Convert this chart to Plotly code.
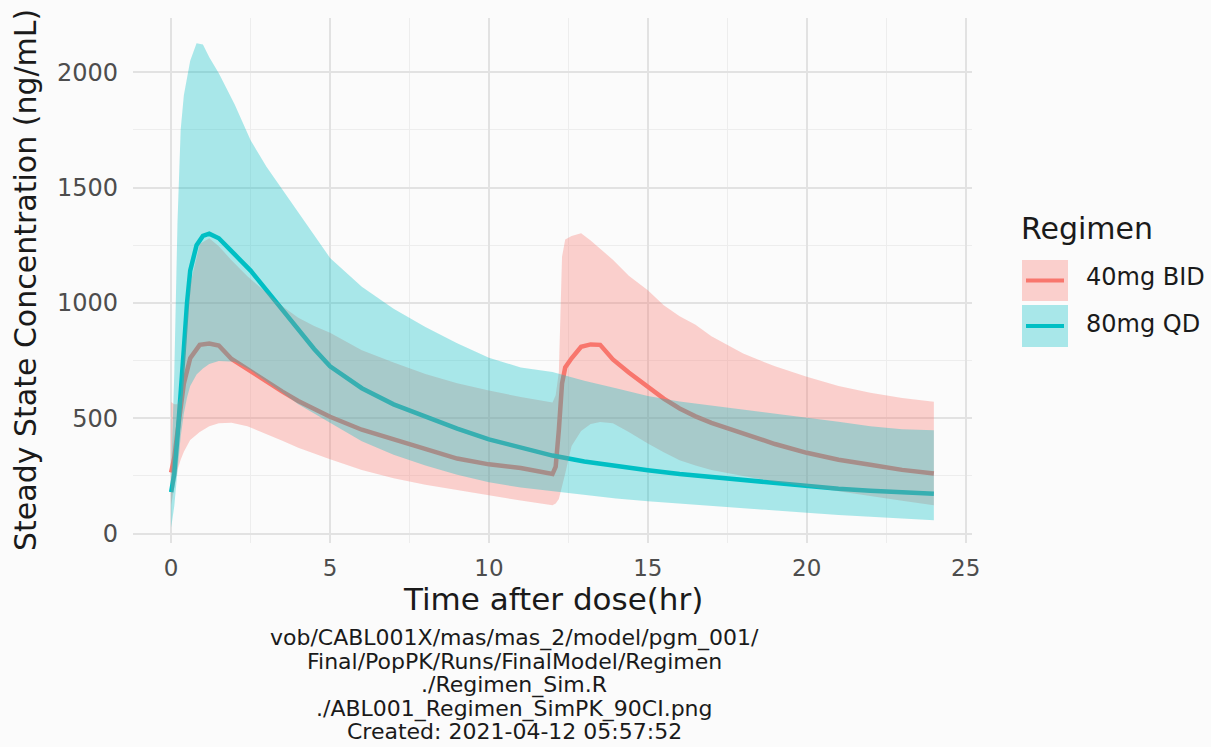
import plotly.graph_objects as go

# ---------------- data ----------------
regimens = ["40mg BID", "80mg QD"]

time_qd = [0, 0.1, 0.2, 0.3, 0.4, 0.5, 0.6, 0.8, 1.0, 1.2, 1.5, 2.0, 2.5, 3.0, 3.5,
           4, 4.5, 5, 6, 7, 8, 9, 10, 11, 12, 13, 14, 15, 16, 17, 18, 19, 20, 21,
           22, 23, 24]
qd_median = [180, 260, 420, 640, 800, 1000, 1140, 1250, 1290, 1300, 1280, 1210, 1140,
             1055, 970, 885, 800, 725, 630, 560, 505, 455, 408, 372, 338, 312, 292,
             274, 258, 245, 232, 218, 204, 194, 186, 179, 173]
qd_lower = [25, 120, 280, 420, 520, 590, 640, 690, 715, 735, 748, 745, 708, 660, 610,
            560, 520, 480, 400, 342, 295, 255, 222, 200, 186, 168, 152, 140, 127, 117,
            108, 100, 90, 80, 72, 65, 58]
qd_upper = [250, 700, 1350, 1750, 1900, 1980, 2050, 2125, 2120, 2065, 1995, 1860, 1705,
            1590, 1490, 1390, 1290, 1195, 1070, 975, 895, 825, 762, 720, 700, 662, 630,
            596, 572, 555, 536, 520, 505, 485, 465, 452, 448]

time_bid = [0, 0.1, 0.2, 0.3, 0.4, 0.6, 0.9, 1.2, 1.5, 1.9, 2.4, 3, 3.5, 4, 4.5, 5, 6,
            7, 8, 9, 10, 11, 12, 12.1, 12.2, 12.3, 12.4, 12.6, 12.9, 13.2, 13.5, 13.9,
            14.4, 15, 15.5, 16, 16.5, 17, 18, 19, 20, 21, 22, 23, 24]
bid_median = [265, 330, 440, 560, 650, 760, 818, 824, 815, 757, 712, 660, 615, 575, 540,
              506, 450, 408, 362, 325, 300, 284, 258, 290, 450, 650, 720, 760, 810, 820,
              818, 755, 698, 634, 585, 542, 508, 480, 432, 388, 350, 320, 298, 276, 260]
bid_lower = [125, 200, 275, 320, 355, 405, 440, 465, 478, 480, 465, 430, 402, 372, 346,
             322, 276, 240, 212, 188, 165, 143, 123, 130, 150, 200, 260, 380, 445, 475,
             484, 478, 440, 390, 352, 318, 295, 275, 250, 225, 202, 182, 162, 142, 123]
bid_upper = [570, 560, 560, 600, 760, 1080, 1255, 1280, 1245, 1185, 1115, 1045, 985,
             935, 900, 870, 795, 742, 692, 652, 620, 592, 568, 600, 700, 1200, 1275,
             1290, 1302, 1270, 1235, 1187, 1118, 1055, 990, 942, 905, 855, 780, 725, 680,
             640, 610, 588, 571]

x_ticks = [0, 5, 10, 15, 20, 25]
y_ticks = [0, 500, 1000, 1500, 2000]

caption_lines = [
    "vob/CABL001X/mas/mas_2/model/pgm_001/",
    "Final/PopPK/Runs/FinalModel/Regimen",
    "./Regimen_Sim.R",
    "./ABL001_Regimen_SimPK_90CI.png",
    "Created: 2021-04-12 05:57:52",
]

# ---------------- styling ----------------
RED = "#F8766D"
CYAN = "#00BFC4"
RED_FILL = "rgba(248,118,109,0.33)"
CYAN_FILL = "rgba(0,191,196,0.33)"
FONT = "DejaVu Sans"
BG = "#fbfbfb"

W, H = 1211, 747
L, R, T, B = 133, 972, 18, 543   # plot area in pixels


def px(x):
    return (x - L) / (R - L)


def py(y):
    return (B - y) / (B - T)


fig = go.Figure()

# lines first (ribbons are drawn over them, as in the reference)
fig.add_trace(go.Scatter(x=time_bid, y=bid_median, mode="lines",
                         line=dict(color=RED, width=4.5), name=regimens[0],
                         showlegend=False))
fig.add_trace(go.Scatter(x=time_qd, y=qd_median, mode="lines",
                         line=dict(color=CYAN, width=4.5), name=regimens[1],
                         showlegend=False))

# 90% CI ribbons
fig.add_trace(go.Scatter(x=time_bid + time_bid[::-1],
                         y=bid_upper + bid_lower[::-1],
                         fill="toself", fillcolor=RED_FILL, mode="lines",
                         line=dict(width=0, color=RED_FILL), hoverinfo="skip",
                         showlegend=False))
fig.add_trace(go.Scatter(x=time_qd + time_qd[::-1],
                         y=qd_upper + qd_lower[::-1],
                         fill="toself", fillcolor=CYAN_FILL, mode="lines",
                         line=dict(width=0, color=CYAN_FILL), hoverinfo="skip",
                         showlegend=False))

grid_major = "#e2e2e2"
grid_minor = "#ededed"

fig.update_layout(
    width=W, height=H,
    margin=dict(l=L, r=W - R, t=T, b=H - B, autoexpand=False),
    paper_bgcolor=BG, plot_bgcolor=BG,
    showlegend=False,
    font=dict(family=FONT, color="#1a1a1a"),
    xaxis=dict(range=[-1.2, 25.2], tickvals=x_ticks,
               ticktext=[str(v) for v in x_ticks],
               showgrid=True, gridcolor=grid_major, gridwidth=1.8,
               zeroline=False, showline=False,
               ticks="outside", ticklen=4, tickcolor="rgba(0,0,0,0)",
               tickfont=dict(family=FONT, size=23, color="#4d4d4d"),
               automargin=False,
               minor=dict(dtick=2.5, tick0=0, showgrid=True,
                          gridcolor=grid_minor, gridwidth=1)),
    yaxis=dict(range=[-41, 2235], tickvals=y_ticks,
               ticktext=[str(v) for v in y_ticks],
               showgrid=True, gridcolor=grid_major, gridwidth=1.8,
               zeroline=False, showline=False, ticks="",
               tickfont=dict(family=FONT, size=24, color="#4d4d4d"),
               ticklabelstandoff=14, automargin=False,
               minor=dict(dtick=250, tick0=0, showgrid=True,
                          gridcolor=grid_minor, gridwidth=1)),
)

annotations = []
# axis titles
annotations.append(dict(text="Time after dose(hr)", x=px(552.5), y=py(599),
                        xref="paper", yref="paper", showarrow=False,
                        xanchor="center", yanchor="middle",
                        font=dict(family=FONT, size=31, color="#1a1a1a")))
annotations.append(dict(text="Steady State Concentration (ng/mL)", x=px(25), y=py(280),
                        xref="paper", yref="paper", showarrow=False, textangle=-90,
                        xanchor="center", yanchor="middle",
                        font=dict(family=FONT, size=30, color="#1a1a1a")))
# caption
cap_centers = [638, 661.5, 685, 708.5, 732]
for line, cy in zip(caption_lines, cap_centers):
    annotations.append(dict(text=line, x=px(514), y=py(cy), xref="paper", yref="paper",
                            showarrow=False, xanchor="center", yanchor="middle",
                            font=dict(family=FONT, size=22, color="#1a1a1a")))

# legend (drawn manually to mimic ggplot keys)
annotations.append(dict(text="Regimen", x=px(1019), y=py(229), xref="paper",
                        yref="paper", showarrow=False, xanchor="left",
                        yanchor="middle",
                        font=dict(family=FONT, size=30, color="#1a1a1a")))
legend_rows = [(regimens[0], RED, RED_FILL, 260, 301, 277),
               (regimens[1], CYAN, CYAN_FILL, 305, 347, 324)]
shapes = []
for name, col, fillc, y0, y1, ty in legend_rows:
    shapes.append(dict(type="rect", xref="paper", yref="paper",
                       x0=px(1022), x1=px(1068), y0=py(y1), y1=py(y0),
                       fillcolor=fillc, line=dict(width=0), layer="above"))
    ym = (y0 + y1) / 2
    shapes.append(dict(type="line", xref="paper", yref="paper",
                       x0=px(1026), x1=px(1064), y0=py(ym), y1=py(ym),
                       line=dict(color=col, width=4), layer="above"))
    annotations.append(dict(text=name, x=px(1084), y=py(ty), xref="paper",
                            yref="paper", showarrow=False, xanchor="left",
                            yanchor="middle",
                            font=dict(family=FONT, size=24, color="#1a1a1a")))

fig.update_layout(annotations=annotations, shapes=shapes)

fig.write_html("out.html",
               config={"displayModeBar": False},
               post_script="document.body.style.margin='0';"
                           "document.body.style.overflow='hidden';")
